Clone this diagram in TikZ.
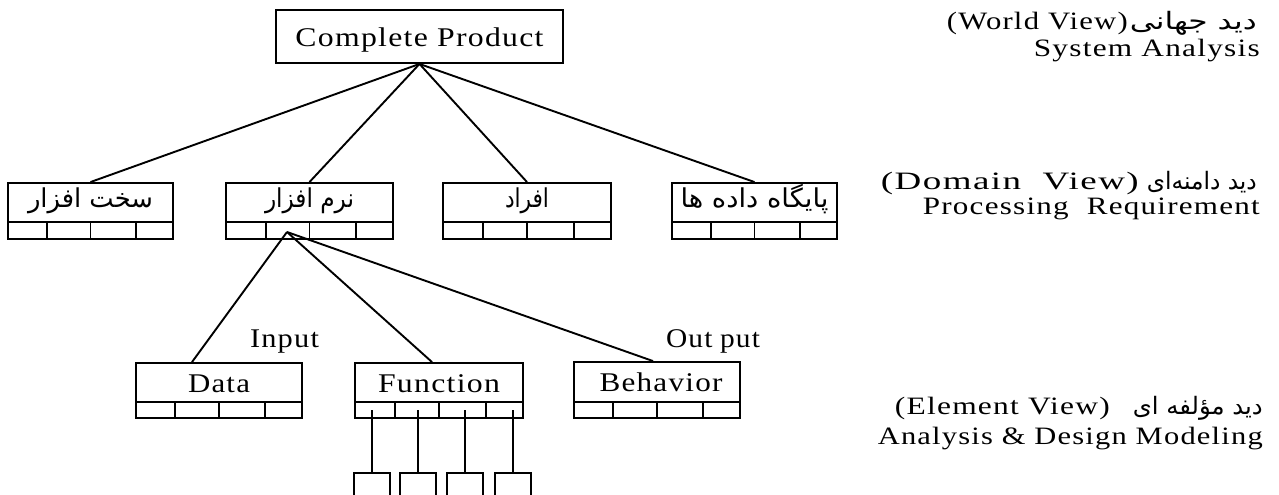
\documentclass[tikz,border=0pt]{standalone}
\usepackage{fontspec}
\usepackage{graphicx}
\setmainfont{Liberation Serif}
\newfontfamily\spaced[LetterSpace=4]{Liberation Serif}
\newfontfamily\fa[Script=Arabic]{DejaVu Sans}
\TeXXeTstate=1
\usetikzlibrary{calc}

% stretch a piece of text to a given width, keeping its height
\newcommand\fitw[2]{\resizebox{#1pt}{\height}{#2}}
\newcommand\fatext[1]{{\fa\beginR #1\endR}}
\newcommand\englbl{\spaced\fontsize{27}{30}\selectfont}
\newcommand\rlbl{\spaced\fontsize{25}{28}\selectfont}
\newcommand\falbl{\fa\fontsize{26}{30}\selectfont}
\newcommand\farlbl{\fa\fontsize{24}{28}\selectfont}

% a labelled box with a row of four cells under it
% #1 name, #2 left, #3 right, #4 top, #5 divider, #6 bottom, #7 text height, #8 label
\newcommand\tiered[8]{%
  \pgfmathsetmacro\tbw{#3-#2}%
  \pgfmathsetmacro\tbx{(#2+#3)/2}%
  \pgfmathsetmacro\tbuh{#5-#4}%
  \pgfmathsetmacro\tbuy{(#4+#5)/2}%
  \pgfmathsetmacro\tblh{#6-#5}%
  \pgfmathsetmacro\tbly{(#5+#6)/2}%
  \node[tierbox, minimum width=\tbw pt, minimum height=\tbuh pt,
        text height=#7pt, text depth=0pt] (#1) at (\tbx,\tbuy) {#8};
  \node[tierbox, minimum width=\tbw pt, minimum height=\tblh pt] (#1-cells) at (\tbx,\tbly) {};
  \foreach \fr in {0.24,0.50,0.775}
    \draw[boxline] ($(#1-cells.north west)!\fr!(#1-cells.north east)$) --
                   ($(#1-cells.south west)!\fr!(#1-cells.south east)$);
}

\begin{document}
\begin{tikzpicture}[x=1pt,y=-1pt,
  boxline/.style={line width=1.9pt},
  link/.style={line width=1.9pt},
  tierbox/.style={draw, line width=1.9pt, inner sep=0pt}]

\path[use as bounding box, clip] (0,0) rectangle (1279,495);
\fill[white] (0,0) rectangle (1279,495);

% top level
\node[tierbox, minimum width=287pt, minimum height=53pt, text height=21pt, text depth=0pt,
      font=\englbl] (cp) at (419.5,36.5) {\fitw{248}{Complete Product}};

% domain level
\tiered{hw}{8}{173}{183}{222}{239}{9}{\falbl\fitw{125}{\fatext{سخت افزار}}}
\tiered{sw}{226}{393}{183}{222}{239}{9}{\falbl\fitw{89}{\fatext{نرم افزار}}}
\tiered{ppl}{443}{611}{183}{222}{239}{9}{\falbl\fitw{44}{\fatext{افراد}}}
\tiered{db}{672}{837}{183}{222}{239}{9}{\falbl\fitw{148}{\fatext{پایگاه داده ها}}}

\foreach \b in {hw,sw,ppl,db}
  \draw[link] (cp.south) -- (\b.north);

% element level
\tiered{data}{136}{302}{363}{402}{418}{19}{\englbl\fitw{62}{Data}\hspace{16pt}}
\tiered{fn}{355}{523}{363}{402}{418}{19}{\englbl\fitw{122}{Function}}
\tiered{bhv}{574}{740}{362}{402}{418}{19}{\englbl\hspace{8pt}\fitw{123}{Behavior}}

\coordinate (hub) at (287,232);
\draw[link] (hub) -- ([xshift=-27pt]data.north);
\draw[link] (hub) -- ([xshift=-7pt]fn.north);
\draw[link] (hub) -- ([xshift=-4pt]bhv.north);

\node[anchor=base, inner sep=0pt, font=\englbl] (inlbl) at (284.5,347) {\fitw{69}{Input}};
\node[anchor=base, inner sep=0pt, font=\englbl] (outlbl) at (713,347) {\fitw{94}{Out\hspace{7pt}put}};

% sub-elements of Function
\foreach \i/\x in {1/372, 2/418, 3/465, 4/513} {
  \node[tierbox, minimum width=36pt, minimum height=44pt] (sb\i) at (\x,495) {};
  \draw[link] (sb\i.north |- fn-cells.center) -- (sb\i.north);
}

% view captions
\node[anchor=base east, inner sep=0pt] (world) at (1257,30)
  {\rlbl\fitw{181}{(World View)}\hspace{2pt}\farlbl\fitw{127}{\fatext{دید جهانی}}};
\node[anchor=base east, inner sep=0pt] (sysan) at (1260,57)
  {\rlbl\fitw{226}{System Analysis}};
\node[anchor=base east, inner sep=0pt] (domain) at (1257,189)
  {\rlbl\fitw{258}{(Domain\ \ View)}\hspace{8pt}\farlbl\fitw{110}{\fatext{دید دامنه^^^^200cای}}};
\node[anchor=base east, inner sep=0pt] (procreq) at (1260,214)
  {\rlbl\fitw{337}{Processing\ \ Requirement}};
\node[anchor=base east, inner sep=0pt] (element) at (1263,414)
  {\rlbl\fitw{215}{(Element View)}\hspace{23pt}\farlbl\fitw{130}{\fatext{دید مؤلفه ای}}};
\node[anchor=base east, inner sep=0pt] (adm) at (1263,444)
  {\rlbl\fitw{385}{Analysis \& Design Modeling}};

\end{tikzpicture}
\end{document}
